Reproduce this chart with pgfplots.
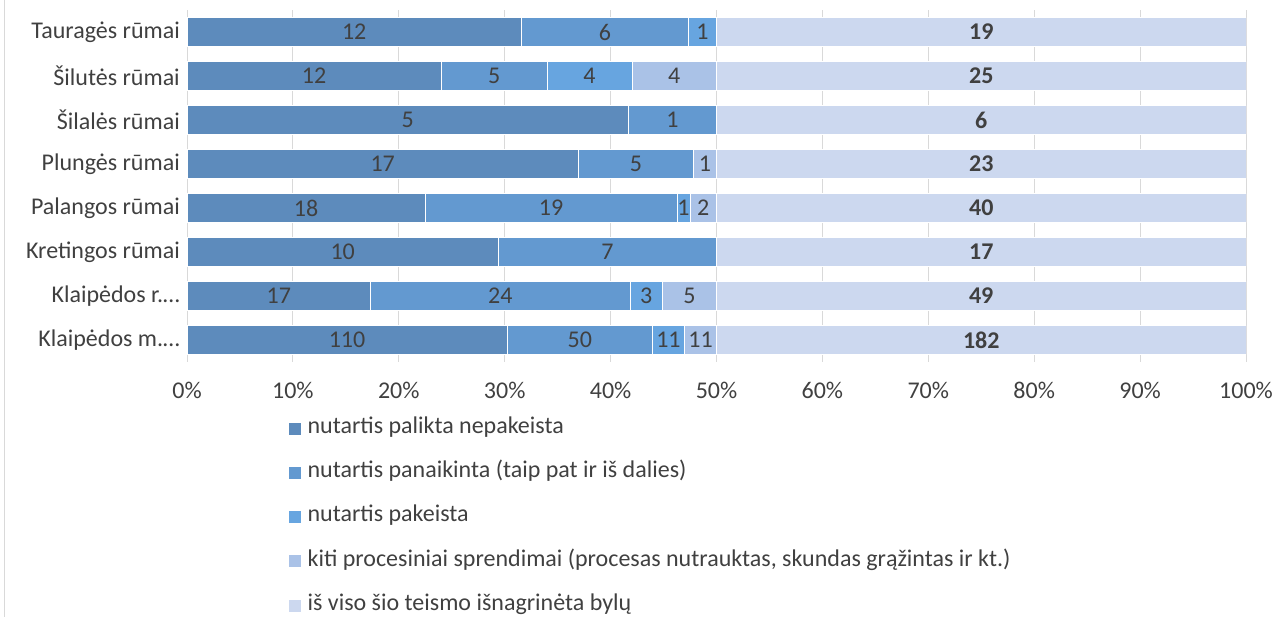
\documentclass[border=0pt]{standalone}
\usepackage{pgfplots}
\pgfplotsset{compat=1.18}
\usepackage{pgfplotstable}
\usepackage{fontspec}
\setmainfont{Carlito}
\definecolor{cA}{HTML}{5D8BBC}
\definecolor{cB}{HTML}{6399D0}
\definecolor{cC}{HTML}{67A5E0}
\definecolor{cD}{HTML}{AAC2E7}
\definecolor{cE}{HTML}{CCD8EF}
\definecolor{txt}{HTML}{404040}
\definecolor{grd}{HTML}{D9D9D9}
\pgfplotstableread{
a b c d t
110 50 11 11 182
17 24 3 5 49
10 7 0 0 17
18 19 1 2 40
17 5 0 1 23
5 1 0 0 6
12 5 4 4 25
12 6 1 0 19
}\data
\begin{document}
\begin{tikzpicture}
\path[use as bounding box] (0,0) rectangle (1276pt,617pt);
\draw[grd, line width=1pt] (4pt,0) -- (4pt,617pt);
\begin{axis}[
  at={(187pt,255pt)}, anchor=south west,
  scale only axis, width=1059pt, height=352pt,
  xbar stacked, bar width=29pt,
  xmin=0, xmax=100, ymin=-0.5, ymax=7.5,
  xtick={0,10,...,100},
  xticklabels={0\%,10\%,20\%,30\%,40\%,50\%,60\%,70\%,80\%,90\%,100\%},
  ytick={0,...,7},
  yticklabels={Klaipėdos m.…,Klaipėdos r.…,Kretingos rūmai,Palangos rūmai,Plungės rūmai,Šilalės rūmai,Šilutės rūmai,Tauragės rūmai},
  axis line style={draw=none},
  major tick length=0pt,
  xmajorgrids, major grid style={grd, line width=1pt},
  font=\fontsize{24}{28}\selectfont,
  tick label style={text=txt, font=\fontsize{24}{28}\selectfont},
  xticklabel style={inner sep=0pt, yshift=-20pt},
  yticklabel style={inner sep=0pt, xshift=-7pt},
  point meta=explicit,
  /pgf/number format/assume math mode=true,
  nodes near coords={\pgfmathfloatifflags{\pgfplotspointmeta}{0}{}{\pgfmathprintnumber[assume math mode=true]{\pgfplotspointmeta}}},
  every node near coord/.append style={text=txt, font=\fontsize{24}{28}\selectfont},
  legend cell align=left,
  legend style={at={(0.0954,-0.162)}, anchor=north west, draw=none, fill=none, inner sep=0pt,
    row sep=26.3pt, font=\fontsize{24}{28}\selectfont, text=txt,
    nodes={inner sep=0pt, text height=14pt, text depth=4pt}},
  legend image code/.code={\fill[#1] (0pt,-6.5pt) rectangle (13pt,6.5pt); \path (19pt,0pt);},
]
\addplot[fill=cA, draw=white, line width=0.4pt] table[x expr={\thisrow{a}/\thisrow{t}*50}, y expr=\coordindex, meta=a] {\data};
\addplot[fill=cB, draw=white, line width=0.4pt] table[x expr={\thisrow{b}/\thisrow{t}*50}, y expr=\coordindex, meta=b] {\data};
\addplot[fill=cC, draw=white, line width=0.4pt] table[x expr={\thisrow{c}/\thisrow{t}*50}, y expr=\coordindex, meta=c] {\data};
\addplot[fill=cD, draw=white, line width=0.4pt] table[x expr={\thisrow{d}/\thisrow{t}*50}, y expr=\coordindex, meta=d] {\data};
\addplot[fill=cE, draw=white, line width=0.4pt, every node near coord/.append style={font=\fontsize{24}{28}\selectfont\bfseries}] table[x expr={\thisrow{t}/\thisrow{t}*50}, y expr=\coordindex, meta=t] {\data};
\legend{nutartis palikta nepakeista, nutartis panaikinta (taip pat ir iš dalies), nutartis pakeista, kiti procesiniai sprendimai (procesas nutrauktas{,} skundas grąžintas ir kt.), iš viso šio teismo išnagrinėta bylų}
\end{axis}
\end{tikzpicture}
\end{document}
